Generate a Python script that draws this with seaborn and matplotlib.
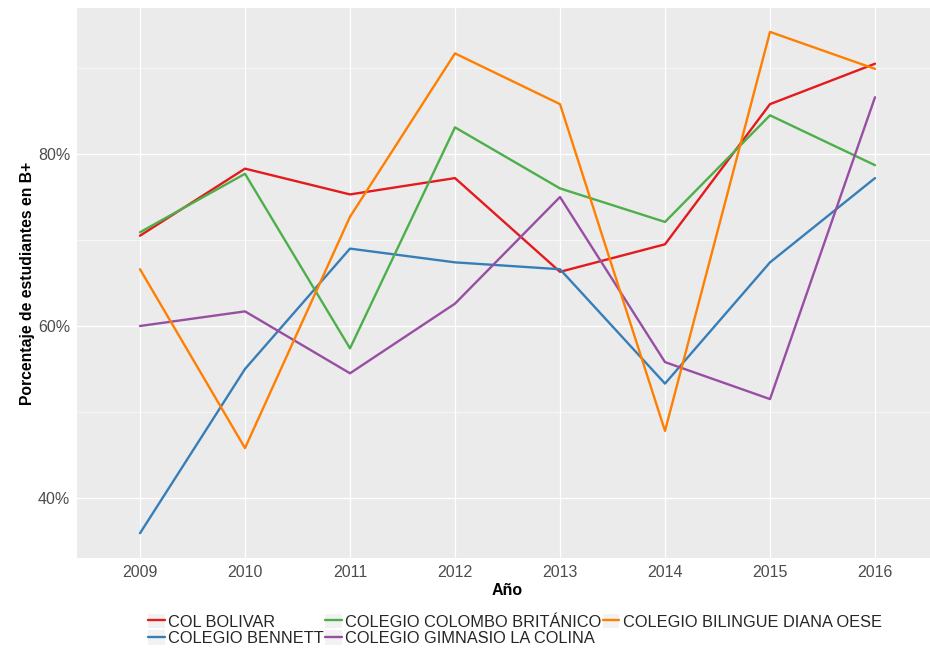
import matplotlib
matplotlib.use("Agg")
import matplotlib.pyplot as plt
import seaborn as sns
import pandas as pd
from matplotlib.lines import Line2D
from matplotlib.patches import Patch
from matplotlib.legend_handler import HandlerTuple
from matplotlib.ticker import FixedLocator, FuncFormatter

years = [2009, 2010, 2011, 2012, 2013, 2014, 2015, 2016]
schools = ["COL BOLIVAR", "COLEGIO BENNETT", "COLEGIO COLOMBO BRITÁNICO",
           "COLEGIO GIMNASIO LA COLINA", "COLEGIO BILINGUE DIANA OESE"]
col_bolivar = [70.5, 78.3, 75.3, 77.2, 66.3, 69.5, 85.8, 90.5]
colegio_bennett = [35.9, 55.0, 69.0, 67.4, 66.6, 53.3, 67.4, 77.2]
colombo_britanico = [70.9, 77.7, 57.4, 83.1, 76.0, 72.1, 84.5, 78.7]
gimnasio_colina = [60.0, 61.7, 54.5, 62.6, 75.0, 55.8, 51.5, 86.6]
diana_oese = [66.6, 45.8, 72.7, 91.7, 85.8, 47.8, 94.2, 89.9]
colors = ["#E41A1C", "#377EB8", "#4DAF4A", "#984EA3", "#FF7F00"]
y_ticks = [40, 60, 80]
y_minor = [50, 70, 90]

series = [col_bolivar, colegio_bennett, colombo_britanico, gimnasio_colina, diana_oese]
rows = []
for s, vals in zip(schools, series):
    for y, v in zip(years, vals):
        rows.append({"Año": y, "pct": v, "Colegio": s})
df = pd.DataFrame(rows)
palette = dict(zip(schools, colors))

sns.set_style("white")
plt.rcParams["font.family"] = ["Liberation Sans", "DejaVu Sans"]

fig = plt.figure(figsize=(9.30, 6.49), dpi=100)
ax = fig.add_axes([77 / 930, 1 - 558 / 649, (938 - 77) / 930, (558 - 8) / 649])
ax.set_facecolor("#EBEBEB")

sns.lineplot(data=df, x="Año", y="pct", hue="Colegio", hue_order=schools,
             palette=palette, linewidth=1.7, ax=ax, legend=False, zorder=3)

ax.set_xlim(2008.4, 2016.6)
ax.set_ylim(33.02, 96.98)
ax.xaxis.set_major_locator(FixedLocator(years))
ax.yaxis.set_major_locator(FixedLocator(y_ticks))
ax.yaxis.set_minor_locator(FixedLocator(y_minor))
ax.yaxis.set_major_formatter(FuncFormatter(lambda v, p: f"{int(v)}%"))
ax.grid(which="major", color="white", linewidth=0.9, zorder=1)
ax.grid(which="minor", axis="y", color="white", linewidth=0.45, zorder=1)
ax.set_axisbelow(True)
for sp in ax.spines.values():
    sp.set_visible(False)
ax.tick_params(axis="both", which="major", length=3, width=0.6, color="#333333",
               labelcolor="#4D4D4D", labelsize=11.5, pad=2)
ax.tick_params(axis="y", which="minor", length=0)

ax.set_xlabel("Año", fontsize=11.5, fontweight="bold", color="black", labelpad=2)
ax.set_ylabel("Porcentaje de estudiantes en B+", fontsize=11.3, fontweight="bold",
              color="black", labelpad=2)

handles = [(Patch(facecolor="#F2F2F2", edgecolor="none"),
            Line2D([0], [0], color=c, linewidth=1.7)) for c in colors]
leg = fig.legend(handles, schools, loc="center", bbox_to_anchor=(515 / 930, 1 - 630 / 649),
                 ncol=3, frameon=False, fontsize=11.8, handlelength=1.0, handleheight=1.0,
                 handletextpad=0.2, columnspacing=0.1, labelspacing=0.05,
                 borderpad=0, handler_map={tuple: HandlerTuple(ndivide=1, pad=0)})

fig.savefig("out.png", dpi=100)
